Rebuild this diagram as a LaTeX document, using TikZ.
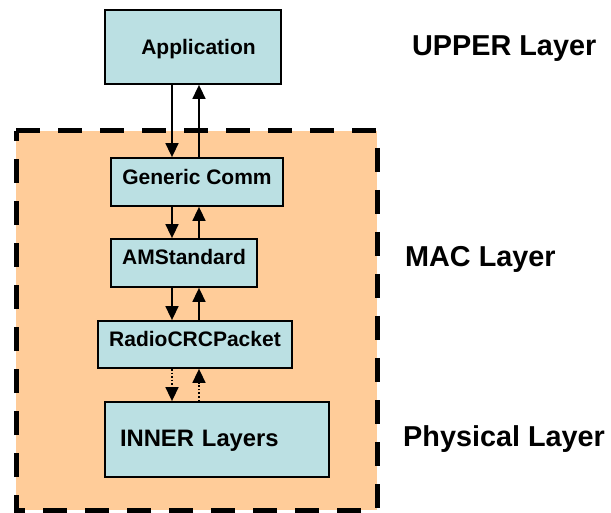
\documentclass[tikz,border=0pt]{standalone}
\usepackage{fontspec}
\setmainfont{Liberation Sans}
\usetikzlibrary{arrows.meta}
\definecolor{boxblue}{RGB}{187,224,227}
\definecolor{macorange}{RGB}{255,204,153}
\begin{document}
\begin{tikzpicture}[x=1pt,y=-1pt,
  layerbox/.style={draw=black,line width=1.8pt,fill=boxblue,inner sep=0pt,
    text height=15pt,font=\fontsize{21}{25}\selectfont\bfseries},
  arr/.style={line width=1.6pt,-{Triangle[width=13pt,length=14pt]}},
  dotarr/.style={arr,dotted},
  lbl/.style={anchor=base west,inner sep=0pt,font=\fontsize{28.8}{34}\selectfont\bfseries}]
\useasboundingbox (0,0) rectangle (611,513);
% MAC region
\fill[macorange] (16,131) rectangle (377,510);
\draw[line width=5pt,dash pattern=on 24pt off 18pt]
  (16,131) -- (377,131) -- (377,510) -- (16,510) -- cycle;
% boxes
\node[layerbox,text depth=0pt,minimum width=176pt,minimum height=74pt] (app) at (193,47) {\hspace*{11pt}Application};
\node[layerbox,text depth=10pt,minimum width=172pt,minimum height=48pt] (gc) at (197,182) {Generic Comm};
\node[layerbox,text depth=11pt,minimum width=146pt,minimum height=48pt] (ams) at (184,263) {AMStandard};
\node[layerbox,text depth=11pt,minimum width=194pt,minimum height=47pt] (rcp) at (195,344.5) {RadioCRCPacket};
\node[layerbox,text height=17pt,text depth=3pt,minimum width=224pt,minimum height=75pt,text width=224pt,align=left,
  font=\fontsize{23.8}{28}\selectfont\bfseries] (inner) at (217,439.5) {\hspace*{15pt}INNER Layers};
% arrow columns
\coordinate (dx) at (172,0);
\coordinate (ux) at (199,0);
\draw[arr] (app.south -| dx) -- (gc.north -| dx);
\draw[arr] (gc.north -| ux) -- (app.south -| ux);
\draw[arr] (gc.south -| dx) -- (ams.north -| dx);
\draw[arr] (ams.north -| ux) -- (gc.south -| ux);
\draw[arr] (ams.south -| dx) -- (rcp.north -| dx);
\draw[arr] (rcp.north -| ux) -- (ams.south -| ux);
\draw[dotarr] (rcp.south -| dx) -- (inner.north -| dx);
\draw[dotarr] (inner.north -| ux) -- (rcp.south -| ux);
% labels
\node[lbl] (upper) at (412,56) {UPPER Layer};
\node[lbl] (mac) at (405,267) {MAC Layer};
\node[lbl] (phys) at (403,446) {Physical Layer};
\end{tikzpicture}
\end{document}
